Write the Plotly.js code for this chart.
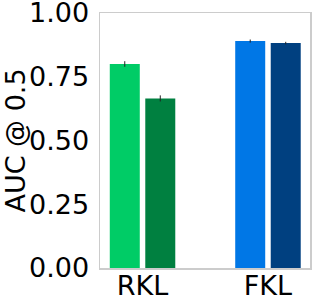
<!DOCTYPE html>
<html><head><meta charset="utf-8">
<script src="https://cdn.plot.ly/plotly-3.0.1.min.js"></script>
<style>html,body{margin:0;padding:0;background:#fff}#chart{width:316px;height:303px}</style>
</head><body><div id="chart"></div>
<script>
const categories = ["RKL", "FKL"];
const firstValues = [0.800, 0.890];
const firstErrors = [0.011, 0.006];
const secondValues = [0.665, 0.882];
const secondErrors = [0.012, 0.005];
const firstColors = ["#00cc66", "#0077e6"];
const secondColors = ["#008040", "#004080"];
const yTicks = [0, 0.25, 0.5, 0.75, 1.0];
const yTickText = ["0.00", "0.25", "0.50", "0.75", "1.00"];

const font = {family: "DejaVu Sans", size: 27, color: "#000"};
const traces = [
  {type: "bar", x: categories, y: firstValues, marker: {color: firstColors},
   error_y: {type: "data", array: firstErrors, visible: true, color: "#222", thickness: 1, width: 0}},
  {type: "bar", x: categories, y: secondValues, marker: {color: secondColors},
   error_y: {type: "data", array: secondErrors, visible: true, color: "#222", thickness: 1, width: 0}}
];
const layout = {
  width: 316, height: 303,
  margin: {l: 100, r: 6, t: 13, b: 35},
  showlegend: false,
  barmode: "group", bargap: 0.434, bargroupgap: 0.155,
  plot_bgcolor: "#fff", paper_bgcolor: "#fff",
  font: font,
  xaxis: {type: "category", range: [-0.339, 1.335], showgrid: false, zeroline: false,
    showline: true, mirror: true, linecolor: "#cccccc", linewidth: 1.5,
    ticks: "", tickfont: font, ticklabelstandoff: -7, ticklabeloverflow: "allow"},
  yaxis: {range: [0, 1], tickvals: yTicks, ticktext: yTickText, showgrid: false, zeroline: false,
    showline: true, mirror: true, linecolor: "#cccccc", linewidth: 1.5,
    ticks: "", tickfont: font, ticklabelstandoff: 4, ticklabeloverflow: "allow",
    title: {text: "AUC @ 0.5", font: font, standoff: 6}}
};
Plotly.newPlot("chart", traces, layout, {displayModeBar: false, staticPlot: true});
</script></body></html>
